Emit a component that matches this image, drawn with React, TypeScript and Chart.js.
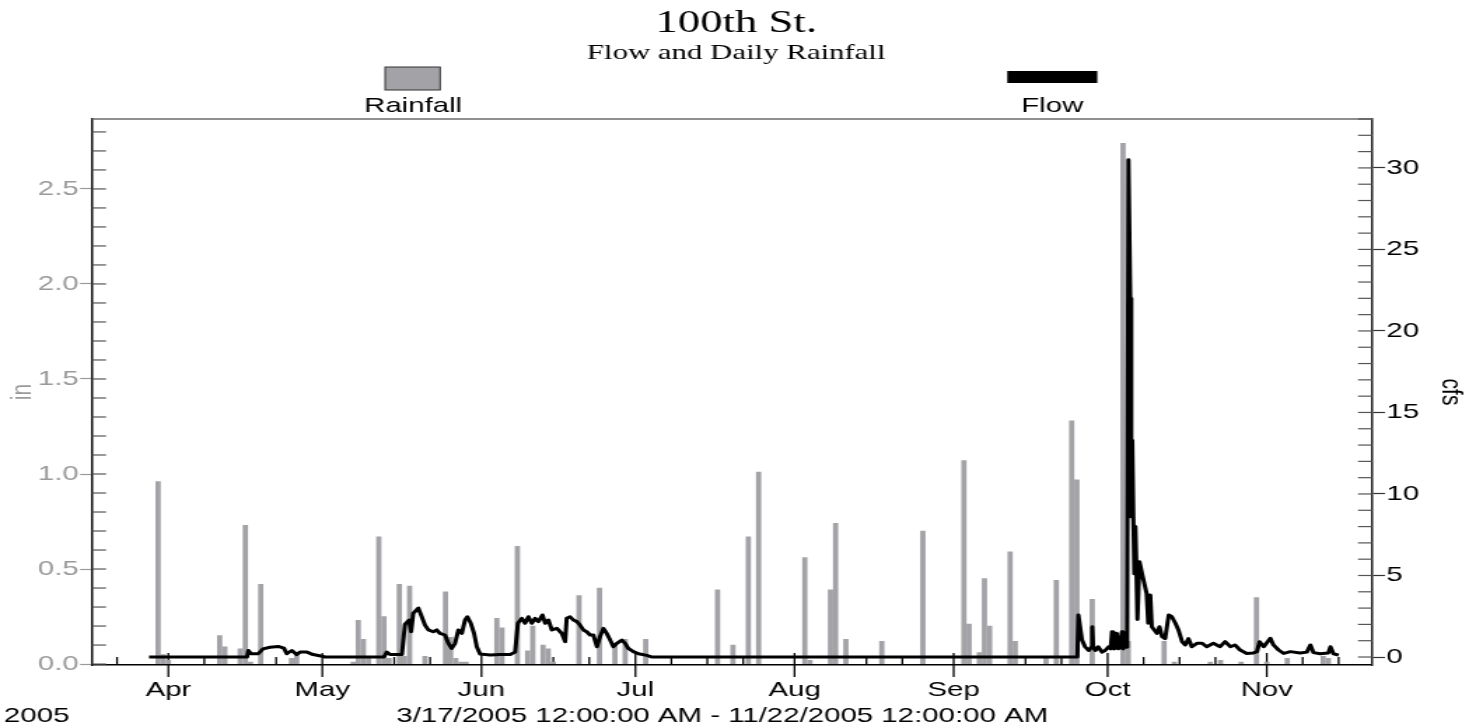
import { useEffect, useRef } from "react";
import { Chart, registerables } from "chart.js";

Chart.register(...registerables);

// ---------- data ----------
const monthLabels = ["Apr", "May", "Jun", "Jul", "Aug", "Sep", "Oct", "Nov"];
const monthStarts = ["4/1", "5/1", "6/1", "7/1", "8/1", "9/1", "10/1", "11/1"];
const weekTicks = [
  "3/22", "4/8", "4/15", "4/22", "5/8", "5/15", "5/22", "6/8", "6/15", "6/22",
  "7/8", "7/15", "7/22", "8/8", "8/15", "8/22", "9/8", "9/15", "9/22",
  "10/8", "10/15", "10/22", "11/8", "11/15",
];
const rainTicks = [0, 0.5, 1.0, 1.5, 2.0, 2.5];
const flowTicks = [0, 5, 10, 15, 20, 25, 30];

const rainDates = [
  "3/30", "3/31", "4/1", "4/11", "4/12", "4/15", "4/16", "4/17", "4/19", "4/25",
  "4/26", "5/7", "5/8", "5/9", "5/10", "5/12", "5/13", "5/14", "5/16", "5/17",
  "5/18", "5/21", "5/25", "5/26", "5/27", "5/28", "5/29", "6/4", "6/5", "6/8",
  "6/10", "6/11", "6/13", "6/14", "6/15", "6/20", "6/24", "6/27", "6/29", "7/3",
  "7/17", "7/20", "7/23", "7/25", "8/3", "8/4", "8/8", "8/9", "8/11", "8/18",
  "8/26", "9/3", "9/4", "9/6", "9/7", "9/8", "9/12", "9/13", "9/19", "9/21",
  "9/24", "9/25", "9/28", "10/4", "10/5", "10/12", "10/14", "10/21", "10/23", "10/27",
  "10/30", "11/1", "11/5", "11/12", "11/13",
];
const rainInches = [
  0.96, 0.05, 0.02, 0.15, 0.09, 0.08, 0.73, 0.01, 0.42, 0.03,
  0.05, 0.01, 0.23, 0.13, 0.03, 0.67, 0.25, 0.03, 0.42, 0.04,
  0.41, 0.04, 0.38, 0.14, 0.03, 0.01, 0.01, 0.24, 0.19, 0.62,
  0.07, 0.2, 0.1, 0.08, 0.01, 0.36, 0.4, 0.1, 0.13, 0.13,
  0.39, 0.1, 0.67, 1.01, 0.56, 0.02, 0.39, 0.74, 0.13, 0.12,
  0.7, 1.07, 0.21, 0.06, 0.45, 0.2, 0.59, 0.12, 0.04, 0.44,
  1.28, 0.97, 0.34, 2.74, 0.12, 0.12, 0.01, 0.01, 0.02, 0.01,
  0.35, 0.01, 0.03, 0.04, 0.03,
];

// flow: days since 3/17/2005 00:00, and cfs
const flowDay = [
  11.24, 30.33, 30.59, 31.1, 32.5, 33.45, 34.8, 36.4, 37.5, 38.07, 39.04, 40.0, 40.66, 42.0, 43.2, 44.95, 45.5,
  57.0, 57.55, 58.2, 60.5, 61.1, 61.9, 62.3, 62.7, 63.7, 64.37, 65.0, 65.66, 66.6, 67.3, 67.9, 68.9, 69.56, 70.2, 70.86, 71.5, 72.17, 72.8, 73.26, 73.92, 74.56, 75.09, 75.73,
  77.7, 79.6, 81.6, 82.55, 83.1, 83.86, 84.5, 85.15, 85.8, 86.45, 87.1, 87.9, 88.4, 89.05, 89.7, 90.7, 91.65, 92.3, 92.6, 93.27, 93.9, 94.6, 95.2, 95.86, 96.5, 97.17, 97.8, 98.5, 99.1, 99.76, 100.4, 101.07, 101.7, 102.37, 103.35, 104.0, 104.6, 105.6, 106.58, 108.2, 109.25,
  192.1, 192.3, 193.0, 193.6, 194.3, 194.8, 195.0, 195.2, 195.6, 196.15, 196.9, 197.5, 198.2, 198.6, 198.84, 199.1, 199.3, 199.8, 200.07, 200.4, 200.8, 201.0, 201.4, 201.8,
  202.05, 202.4, 202.6, 202.8, 203.0, 203.2, 203.4, 203.6, 203.8, 204.2, 205.0, 205.6, 205.9, 206.3, 206.6, 207.6, 208.1, 208.6, 209.2, 209.9, 210.5, 211.2, 211.8, 212.5,
  213.1, 213.75, 214.4, 215.4, 216.4, 217.3, 218.6, 219.9, 220.9, 221.9, 222.8, 223.8, 225.1, 226.4, 227.1, 227.6, 228.4, 229.7, 230.3, 231.3, 232.3, 233.6, 235.5, 236.8, 237.5, 238.1, 239.4, 241.0, 241.4, 242.0, 243.0,
];
const flowCfs = [
  0, 0, 0.4, 0.2, 0.2, 0.5, 0.6, 0.65, 0.55, 0.2, 0.4, 0.15, 0.3, 0.3, 0.15, 0.05, 0,
  0, 0.3, 0.15, 0.15, 2.0, 2.27, 1.55, 2.68, 3.0, 2.47, 1.96, 1.66, 1.55, 1.66, 1.45, 1.35, 0.84, 0.53, 0.84, 1.66, 1.45, 2.27, 2.47, 2.07, 1.45, 0.63, 0.18,
  0.12, 0.15, 0.15, 0.3, 2.07, 2.37, 2.07, 2.47, 2.07, 2.37, 2.17, 2.58, 2.07, 2.27, 1.66, 1.76, 1.45, 0.94, 2.37, 2.47, 2.27, 2.17, 1.96, 1.66, 1.55, 1.35, 1.35, 0.63, 1.25, 1.76, 1.45, 1.04, 0.63, 0.84, 1.04, 0.84, 0.53, 0.33, 0.2, 0.1, 0,
  0, 2.58, 1.04, 0.63, 0.4, 0.6, 1.86, 0.6, 0.4, 0.63, 0.3, 0.4, 0.63, 0.5, 1.55, 0.7, 0.5, 1.45, 0.5, 0.6, 1.55, 0.5, 0.7, 0.6,
  30.5, 22, 8.6, 13.3, 8.6, 5.1, 8.0, 5.5, 2.3, 5.85, 4.7, 3.9, 2.07, 3.8, 1.86, 1.45, 1.86, 1.25, 1.13, 2.58, 2.47, 2.07, 1.66, 0.94,
  0.74, 1.13, 0.63, 0.84, 0.84, 0.63, 0.84, 0.63, 0.94, 0.63, 0.74, 0.43, 0.22, 0.25, 0.33, 0.94, 0.63, 1.15, 0.74, 0.43, 0.22, 0.33, 0.25, 0.3, 0.74, 0.27, 0.2, 0.25, 0.63, 0.2, 0.12,
];

const titleText = "100th St.";
const subtitleText = "Flow and Daily Rainfall";
const yearText = "2005";
const rangeText = "3/17/2005 12:00:00 AM - 11/22/2005 12:00:00 AM";

// ---------- helpers ----------
const DAY0 = Date.UTC(2005, 2, 17);
function dayOf(md: string): number {
  const [m, d] = md.split("/").map(Number);
  return (Date.UTC(2005, m - 1, d) - DAY0) / 86400000;
}

const PAGE_W = 1476;
const PAGE_H = 728;
const SX = 1.4; // horizontal stretch of the picture
const CW = Math.round(PAGE_W / SX);
const hx = (x: number) => x / SX;

const SANS = '"Liberation Sans", Arial, Helvetica, sans-serif';
const SERIF = '"Liberation Serif", "Times New Roman", serif';
const RAIN_GRAY = "#a3a3a7";
const LABEL_GRAY = "#9a9a9a";

const decor = {
  id: "decor",
  beforeDatasetsDraw(chart: any) {
    const { ctx, chartArea: a, scales } = chart;
    const xs = scales.x;
    ctx.save();
    // top frame line
    ctx.strokeStyle = "#6a6a6a";
    ctx.lineWidth = 1.5;
    ctx.beginPath();
    ctx.moveTo(a.left, a.top);
    ctx.lineTo(a.right, a.top);
    ctx.stroke();
    // x ticks
    ctx.strokeStyle = "#000";
    ctx.lineWidth = 1.3;
    monthStarts.forEach((md) => {
      const p = xs.getPixelForValue(dayOf(md));
      ctx.beginPath();
      ctx.moveTo(p, a.bottom - 12);
      ctx.lineTo(p, a.bottom + 12);
      ctx.stroke();
    });
    weekTicks.forEach((md) => {
      const p = xs.getPixelForValue(dayOf(md));
      ctx.beginPath();
      ctx.moveTo(p, a.bottom - 8);
      ctx.lineTo(p, a.bottom);
      ctx.stroke();
    });
    // inner y ticks
    ctx.strokeStyle = "#555";
    ctx.lineWidth = 1.2;
    const yr = scales.yRain;
    for (let i = 0; i <= 28; i++) {
      const p = yr.getPixelForValue(i / 10);
      ctx.beginPath();
      ctx.moveTo(a.left, p);
      ctx.lineTo(a.left + hx(14), p);
      ctx.stroke();
    }
    const yf = scales.yFlow;
    for (let i = 0; i <= 33; i++) {
      const p = yf.getPixelForValue(i);
      ctx.beginPath();
      ctx.moveTo(a.right - hx(14), p);
      ctx.lineTo(a.right, p);
      ctx.stroke();
    }
    ctx.restore();
  },
  afterDraw(chart: any) {
    const { ctx } = chart;
    ctx.save();
    ctx.fillStyle = "#000";
    ctx.textBaseline = "alphabetic";
    ctx.textAlign = "center";
    ctx.font = `32px ${SERIF}`;
    ctx.fillText(titleText, hx(736), 32);
    ctx.font = `22px ${SERIF}`;
    ctx.fillText(subtitleText, hx(736), 59);

    // legend
    ctx.fillStyle = RAIN_GRAY;
    ctx.fillRect(hx(385), 67, hx(55), 23);
    ctx.strokeStyle = "#333";
    ctx.lineWidth = 1;
    ctx.strokeRect(hx(385), 67, hx(55), 23);
    ctx.fillStyle = "#000";
    ctx.fillRect(hx(1007), 71, hx(90), 12);
    ctx.font = `21px ${SANS}`;
    ctx.fillText("Rainfall", hx(413), 112);
    ctx.fillText("Flow", hx(1052), 112);

    // bottom texts
    ctx.textAlign = "left";
    ctx.fillText(yearText, hx(4), 722);
    ctx.textAlign = "center";
    ctx.fillText(rangeText, hx(722), 722);
    ctx.restore();
  },
};

export default function App() {
  const ref = useRef<HTMLCanvasElement>(null);

  useEffect(() => {
    document.body.style.margin = "0";
    const canvas = ref.current;
    if (!canvas) return;
    Chart.defaults.font.family = SANS;

    const chart = new Chart(canvas, {
      type: "bar",
      data: {
        datasets: [
          {
            type: "line",
            label: "Flow",
            data: flowDay.map((d, i) => ({ x: d, y: flowCfs[i] })),
            yAxisID: "yFlow",
            xAxisID: "x",
            borderColor: "#000",
            borderWidth: 3,
            borderJoinStyle: "round",
            pointRadius: 0,
            tension: 0,
            fill: false,
            order: 0,
          } as any,
          {
            type: "bar",
            label: "Rainfall",
            data: rainDates.map((d, i) => ({ x: dayOf(d), y: rainInches[i] })),
            yAxisID: "yRain",
            xAxisID: "x",
            backgroundColor: RAIN_GRAY,
            borderWidth: 0,
            barThickness: 3.1,
            order: 1,
          } as any,
        ],
      },
      options: {
        animation: false,
        responsive: false,
        events: [],
        layout: { padding: { top: 119, left: 0, right: 0, bottom: 0 } },
        plugins: {
          legend: { display: false },
          title: { display: false },
          tooltip: { enabled: false },
        },
        scales: {
          x: {
            type: "linear",
            position: "bottom",
            min: 0.13,
            max: 249.5,
            offset: false,
            afterBuildTicks: (s: any) => {
              s.ticks = monthStarts.map((md) => ({ value: dayOf(md) }));
            },
            afterFit: (s: any) => {
              s.height = 63;
            },
            ticks: {
              autoSkip: false,
              maxRotation: 0,
              minRotation: 0,
              padding: 1,
              color: "#000",
              font: { size: 21, family: SANS },
              callback: (_v: any, i: number) => monthLabels[i],
            },
            grid: { display: false, drawTicks: true, tickLength: 12, offset: false },
            border: { display: true, color: "#000", width: 1.5 },
          },
          yRain: {
            type: "linear",
            position: "left",
            min: -0.005,
            max: 2.868,
            afterBuildTicks: (s: any) => {
              s.ticks = rainTicks.map((v) => ({ value: v }));
            },
            afterFit: (s: any) => {
              s.width = hx(92);
            },
            ticks: {
              padding: 1,
              color: LABEL_GRAY,
              font: { size: 21, family: SANS },
              callback: (v: any) => Number(v).toFixed(1),
            },
            grid: {
              display: true,
              drawOnChartArea: false,
              drawTicks: true,
              tickLength: hx(12),
              tickColor: LABEL_GRAY,
              tickWidth: 1.2,
            },
            border: { display: true, color: "#111", width: 1.5 },
            title: {
              display: true,
              text: "in",
              color: LABEL_GRAY,
              font: { size: 21, family: SANS },
              padding: { top: 4, bottom: 0 },
            },
          },
          yFlow: {
            type: "linear",
            position: "right",
            min: -0.49,
            max: 33.0,
            afterBuildTicks: (s: any) => {
              s.ticks = flowTicks.map((v) => ({ value: v }));
            },
            afterFit: (s: any) => {
              s.width = hx(PAGE_W - 1372);
            },
            ticks: {
              padding: 1,
              color: "#000",
              font: { size: 21, family: SANS },
              callback: (v: any) => String(v),
            },
            grid: {
              display: true,
              drawOnChartArea: false,
              drawTicks: true,
              tickLength: hx(13),
              tickColor: "#333",
              tickWidth: 1.2,
            },
            border: { display: true, color: "#222", width: 1.5 },
            title: {
              display: true,
              text: "cfs",
              color: "#000",
              font: { size: 21, family: SANS },
              padding: { top: 6, bottom: 0 },
            },
          },
        },
      } as any,
      plugins: [decor],
    });

    return () => chart.destroy();
  }, []);

  return (
    <canvas
      ref={ref}
      width={CW}
      height={PAGE_H}
      style={{ display: "block", width: `${PAGE_W}px`, height: `${PAGE_H}px` }}
    />
  );
}
